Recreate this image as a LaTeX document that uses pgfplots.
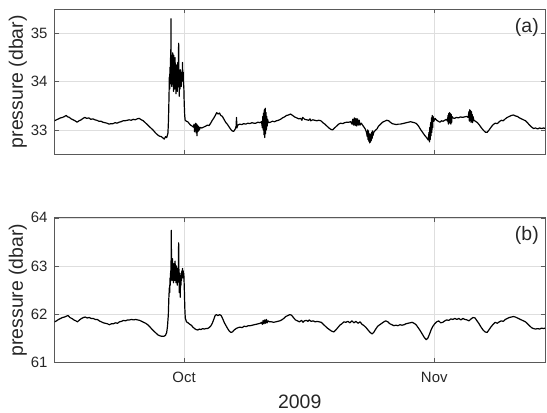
\documentclass[border=0pt]{standalone}
\usepackage{pgfplots}
\pgfplotsset{compat=1.18}
\usepackage{pgfplotstable}
\usepackage{fontspec}
\setmainfont{Liberation Sans}
\definecolor{axgray}{gray}{0.15}
\definecolor{boxgray}{gray}{0.35}
\definecolor{gridgray}{gray}{0.87}

\pgfplotstableread{
day p
-16.05 33.19
-15.8 33.21
-15.55 33.23
-15.3 33.25
-15.05 33.26
-14.8 33.28
-14.6 33.30
-14.4 33.27
-14.2 33.26
-14.0 33.23
-13.75 33.21
-13.5 33.19
-13.25 33.16
-13.0 33.19
-12.75 33.21
-12.5 33.24
-12.3 33.26
-12.05 33.24
-11.8 33.25
-11.55 33.22
-11.3 33.23
-11.05 33.21
-10.8 33.20
-10.55 33.18
-10.3 33.18
-10.05 33.16
-9.8 33.15
-9.55 33.14
-9.3 33.12
-9.05 33.13
-8.8 33.13
-8.55 33.15
-8.3 33.14
-8.05 33.16
-7.8 33.17
-7.55 33.19
-7.3 33.19
-7.05 33.20
-6.8 33.21
-6.55 33.20
-6.3 33.22
-6.05 33.21
-5.8 33.23
-5.55 33.24
-5.3 33.21
-5.05 33.19
-4.8 33.15
-4.55 33.11
-4.3 33.07
-4.05 33.03
-3.8 32.99
-3.55 32.94
-3.3 32.90
-3.05 32.87
-2.8 32.86
-2.6 32.83
-2.45 32.81
-2.3 32.86
-2.15 32.84
-2.0 32.93
-1.95 33.10
-1.9 33.40
-1.85 33.80
-1.82 34.10
-1.78 33.85
-1.75 34.30
-1.72 33.95
-1.68 34.50
-1.65 34.05
-1.62 35.31
-1.59 34.20
-1.55 34.55
-1.52 33.90
-1.48 34.45
-1.45 34.00
-1.41 34.60
-1.38 33.95
-1.34 34.40
-1.30 33.80
-1.27 34.55
-1.23 34.00
-1.19 34.30
-1.15 33.85
-1.11 34.50
-1.07 33.95
-1.03 34.20
-0.99 33.75
-0.95 34.35
-0.91 33.90
-0.87 34.15
-0.83 33.80
-0.79 34.40
-0.75 33.95
-0.71 34.25
-0.67 34.80
-0.63 34.00
-0.59 33.70
-0.55 34.10
-0.51 33.85
-0.47 34.25
-0.43 33.95
-0.39 34.15
-0.35 33.90
-0.31 34.20
-0.27 34.00
-0.23 34.10
-0.19 34.40
-0.15 34.05
-0.11 34.20
-0.07 33.95
-0.03 33.90
0.02 33.55
0.08 33.30
0.14 33.20
0.3 33.18
0.45 33.17
0.6 33.14
0.8 33.10
1.0 33.08
1.15 33.06
1.25 33.12
1.3 32.96
1.35 33.10
1.4 32.98
1.45 33.14
1.5 32.94
1.55 33.12
1.6 32.88
1.65 33.10
1.7 32.96
1.75 33.08
1.8 32.98
1.85 33.06
1.9 33.00
2.0 33.05
2.2 33.04
2.45 33.06
2.7 33.08
2.9 33.10
3.1 33.09
3.3 33.14
3.5 33.20
3.7 33.25
3.9 33.31
4.05 33.36
4.2 33.33
4.4 33.35
4.55 33.30
4.75 33.28
4.95 33.22
5.15 33.16
5.35 33.12
5.55 33.07
5.75 33.02
5.95 32.98
6.15 32.97
6.35 33.02
6.45 33.08
6.5 33.26
6.55 33.04
6.65 33.10
6.9 33.12
7.15 33.11
7.4 33.13
7.65 33.12
7.9 33.14
8.15 33.13
8.4 33.15
8.65 33.14
8.9 33.14
9.15 33.16
9.4 33.15
9.6 33.17
9.7 33.05
9.75 33.28
9.8 33.00
9.85 33.35
9.9 32.90
9.95 33.42
10.0 32.84
10.05 33.45
10.1 32.92
10.15 33.36
10.2 33.00
10.25 33.28
10.3 33.08
10.35 33.22
10.45 33.15
10.7 33.16
10.95 33.18
11.2 33.17
11.45 33.19
11.7 33.20
11.95 33.22
12.2 33.25
12.45 33.27
12.7 33.30
12.95 33.31
13.2 33.33
13.45 33.30
13.7 33.27
13.95 33.25
14.2 33.23
14.45 33.24
14.6 33.20
14.7 33.26
14.95 33.22
15.2 33.21
15.45 33.20
15.6 33.23
15.7 33.19
15.95 33.21
16.2 33.20
16.45 33.19
16.7 33.20
16.95 33.19
17.2 33.15
17.45 33.12
17.7 33.08
17.95 33.04
18.2 33.01
18.4 33.00
18.65 33.04
18.9 33.08
19.15 33.12
19.4 33.14
19.65 33.13
19.9 33.15
20.15 33.16
20.4 33.16
20.65 33.17
20.8 33.12
20.9 33.22
21.0 33.10
21.1 33.25
21.2 33.09
21.3 33.24
21.4 33.08
21.5 33.23
21.6 33.10
21.7 33.20
21.8 33.10
21.95 33.14
22.2 33.08
22.45 33.02
22.6 32.95
22.7 32.86
22.75 33.00
22.8 32.80
22.85 32.98
22.9 32.76
22.95 32.92
23.0 32.73
23.05 32.90
23.1 32.75
23.15 32.92
23.2 32.78
23.25 32.95
23.3 32.82
23.35 32.98
23.4 32.88
23.5 32.95
23.7 32.99
23.9 33.02
24.1 33.08
24.35 33.12
24.6 33.16
24.85 33.18
25.1 33.20
25.35 33.19
25.55 33.16
25.8 33.13
26.05 33.12
26.3 33.11
26.55 33.12
26.8 33.12
27.05 33.13
27.3 33.14
27.55 33.15
27.8 33.16
28.05 33.17
28.3 33.16
28.55 33.15
28.8 33.13
29.05 33.08
29.3 33.01
29.55 32.95
29.8 32.89
30.05 32.84
30.25 32.79
30.35 32.95
30.4 32.75
30.45 33.05
30.5 32.80
30.55 33.15
30.6 32.88
30.65 33.25
30.7 32.95
30.75 33.30
30.8 33.05
30.85 33.28
30.95 33.18
31.1 33.24
31.3 33.20
31.5 33.18
31.7 33.16
31.9 33.19
32.1 33.18
32.3 33.20
32.5 33.22
32.65 33.18
32.7 33.30
32.75 33.12
32.8 33.34
32.85 33.14
32.9 33.36
32.95 33.16
33.0 33.34
33.05 33.12
33.1 33.32
33.15 33.15
33.2 33.28
33.3 33.25
33.5 33.24
33.75 33.26
34.0 33.25
34.25 33.27
34.5 33.26
34.75 33.27
35.0 33.28
35.2 33.26
35.3 33.38
35.35 33.18
35.4 33.42
35.45 33.20
35.5 33.40
35.55 33.16
35.6 33.38
35.65 33.20
35.7 33.32
35.75 33.15
35.8 33.28
35.9 33.20
36.1 33.18
36.35 33.15
36.6 33.10
36.85 33.04
37.1 32.99
37.35 32.95
37.55 32.95
37.8 33.00
38.05 33.06
38.3 33.11
38.55 33.14
38.8 33.13
39.05 33.17
39.3 33.20
39.55 33.19
39.8 33.23
40.05 33.26
40.3 33.28
40.55 33.30
40.8 33.31
41.05 33.29
41.3 33.28
41.55 33.25
41.8 33.23
42.05 33.21
42.3 33.19
42.55 33.15
42.8 33.10
43.05 33.06
43.3 33.03
43.55 33.04
43.8 33.02
44.05 33.04
44.3 33.03
44.55 33.04
44.72 33.03
}\dataA

\pgfplotstableread{
day p
-16.05 61.84
-15.8 61.86
-15.55 61.89
-15.3 61.91
-15.05 61.93
-14.8 61.94
-14.55 61.96
-14.35 61.97
-14.15 61.93
-13.9 61.91
-13.65 61.88
-13.4 61.86
-13.2 61.84
-12.95 61.88
-12.7 61.91
-12.45 61.93
-12.25 61.94
-12.0 61.92
-11.75 61.93
-11.5 61.91
-11.25 61.91
-11.0 61.89
-10.75 61.89
-10.5 61.86
-10.25 61.84
-10.0 61.82
-9.75 61.81
-9.5 61.80
-9.25 61.78
-9.0 61.80
-8.75 61.80
-8.5 61.82
-8.25 61.81
-8.0 61.84
-7.75 61.85
-7.5 61.87
-7.25 61.86
-7.0 61.88
-6.75 61.88
-6.5 61.89
-6.25 61.88
-6.0 61.89
-5.75 61.88
-5.5 61.87
-5.25 61.85
-5.0 61.83
-4.75 61.81
-4.5 61.78
-4.25 61.74
-4.0 61.69
-3.75 61.65
-3.5 61.61
-3.25 61.57
-3.0 61.55
-2.75 61.54
-2.5 61.54
-2.3 61.56
-2.15 61.62
-2.05 61.75
-1.95 61.98
-1.88 62.35
-1.82 62.55
-1.78 62.45
-1.74 62.75
-1.70 62.60
-1.66 62.90
-1.62 62.70
-1.58 63.74
-1.55 62.85
-1.51 63.00
-1.47 62.70
-1.43 63.15
-1.39 62.75
-1.35 62.95
-1.31 62.65
-1.27 63.05
-1.23 62.80
-1.19 62.95
-1.15 62.70
-1.11 63.10
-1.07 62.80
-1.03 62.90
-0.99 62.65
-0.95 63.00
-0.91 62.75
-0.87 62.85
-0.83 62.60
-0.79 62.95
-0.75 62.70
-0.71 62.90
-0.67 63.48
-0.63 62.80
-0.59 62.45
-0.55 62.85
-0.51 62.55
-0.47 62.35
-0.43 62.80
-0.39 62.60
-0.35 62.85
-0.31 62.70
-0.27 62.90
-0.23 62.75
-0.19 62.95
-0.15 62.80
-0.11 62.90
-0.07 62.75
-0.03 62.85
0.03 62.55
0.09 62.15
0.15 61.92
0.3 61.84
0.5 61.82
0.7 61.79
0.9 61.77
1.1 61.73
1.3 61.70
1.5 61.68
1.7 61.67
1.9 61.69
2.1 61.68
2.3 61.70
2.5 61.69
2.7 61.70
2.9 61.70
3.1 61.72
3.3 61.75
3.5 61.81
3.7 61.90
3.85 61.97
4.0 61.99
4.2 61.97
4.4 61.99
4.6 61.97
4.8 61.90
5.0 61.82
5.2 61.76
5.4 61.70
5.6 61.65
5.8 61.62
6.0 61.63
6.2 61.67
6.45 61.70
6.7 61.72
6.95 61.73
7.2 61.72
7.45 61.75
7.7 61.74
7.95 61.76
8.2 61.76
8.45 61.77
8.7 61.78
8.95 61.79
9.2 61.80
9.45 61.81
9.6 61.83
9.7 61.79
9.8 61.87
9.9 61.80
10.0 61.88
10.1 61.81
10.2 61.89
10.3 61.82
10.4 61.86
10.6 61.84
10.85 61.84
11.1 61.83
11.35 61.84
11.6 61.85
11.85 61.86
12.1 61.88
12.35 61.91
12.6 61.95
12.85 61.97
13.1 61.99
13.3 61.98
13.55 61.93
13.8 61.88
14.05 61.86
14.3 61.84
14.55 61.87
14.75 61.83
14.9 61.86
15.15 61.87
15.35 61.85
15.5 61.88
15.75 61.85
16.0 61.86
16.25 61.84
16.5 61.85
16.75 61.84
17.0 61.83
17.25 61.79
17.5 61.75
17.75 61.71
18.0 61.68
18.25 61.65
18.55 61.63
18.8 61.67
19.05 61.72
19.3 61.77
19.55 61.80
19.8 61.84
20.05 61.83
20.3 61.85
20.55 61.82
20.8 61.86
21.05 61.82
21.3 61.85
21.55 61.81
21.8 61.84
22.05 61.79
22.3 61.76
22.55 61.72
22.8 61.67
23.05 61.62
23.3 61.59
23.5 61.62
23.75 61.69
24.0 61.75
24.25 61.78
24.5 61.81
24.75 61.84
25.0 61.86
25.25 61.84
25.5 61.80
25.75 61.78
26.0 61.76
26.25 61.77
26.5 61.76
26.75 61.78
27.0 61.77
27.25 61.78
27.5 61.80
27.75 61.81
28.0 61.82
28.25 61.83
28.5 61.81
28.75 61.78
29.0 61.72
29.25 61.66
29.5 61.59
29.75 61.52
30.0 61.47
30.2 61.50
30.4 61.58
30.6 61.67
30.8 61.74
31.05 61.80
31.3 61.84
31.55 61.86
31.8 61.82
32.05 61.83
32.3 61.86
32.55 61.88
32.8 61.87
33.05 61.90
33.3 61.89
33.55 61.91
33.8 61.89
34.05 61.91
34.3 61.88
34.55 61.91
34.8 61.89
35.05 61.88
35.3 61.86
35.55 61.90
35.8 61.93
36.05 61.92
36.3 61.86
36.55 61.80
36.8 61.73
37.05 61.67
37.3 61.63
37.55 61.62
37.8 61.68
38.05 61.74
38.3 61.79
38.55 61.83
38.8 61.81
39.05 61.84
39.3 61.86
39.55 61.85
39.8 61.89
40.05 61.91
40.3 61.93
40.55 61.94
40.8 61.95
41.05 61.94
41.3 61.92
41.55 61.90
41.8 61.88
42.05 61.86
42.3 61.84
42.55 61.80
42.8 61.76
43.05 61.72
43.3 61.70
43.55 61.69
43.8 61.70
44.05 61.69
44.3 61.71
44.55 61.70
44.72 61.71
}\dataB

\pgfplotsset{
  myax/.style={
    scale only axis, width=490.5bp, height=144.5bp,
    xmin=-16.05, xmax=44.72,
    xtick={0,31},
    axis line style={boxgray, line width=0.8bp},
    every tick/.style={boxgray, line width=0.6bp},
    major tick length=4bp,
    grid=major, major grid style={gridgray, line width=0.6bp},
    tick label style={font=\fontsize{15}{18}\selectfont, text=axgray},
    /pgf/number format/assume math mode=true,
    yticklabel style={xshift=-3.5bp},
    xticklabel style={yshift=-6.7bp},
    ylabel={pressure (dbar)},
    every axis y label/.style={at={(axis description cs:-0.056,0.5)}, rotate=90, anchor=south, inner sep=0pt, font=\fontsize{19.5}{23}\selectfont, text=axgray},
    clip=true,
  }
}

\begin{document}
\begin{tikzpicture}
\useasboundingbox (0,0) rectangle (547bp,413bp);
\begin{axis}[myax, at={(54.5bp,259bp)}, anchor=south west,
  ymin=32.5, ymax=35.5, ytick={33,34,35}, xticklabels={}]
  \addplot[black, line width=1.2bp, line join=round, no marks] table[x=day, y=p] {\dataA};
  \node[font=\fontsize{19.5}{23}\selectfont, text=axgray] at (rel axis cs:0.963,0.879) {(a)};
\end{axis}
\begin{axis}[myax, at={(54.5bp,50.7bp)}, anchor=south west,
  ymin=61, ymax=64, ytick={61,62,63,64}, xticklabels={Oct,Nov},
  xlabel={2009},
  every axis x label/.style={at={(axis description cs:0.5,0)}, anchor=center, yshift=-39.7bp, font=\fontsize{19.5}{23}\selectfont, text=axgray}]
  \addplot[black, line width=1.2bp, line join=round, no marks] table[x=day, y=p] {\dataB};
  \node[font=\fontsize{19.5}{23}\selectfont, text=axgray] at (rel axis cs:0.963,0.879) {(b)};
\end{axis}
\end{tikzpicture}
\end{document}
